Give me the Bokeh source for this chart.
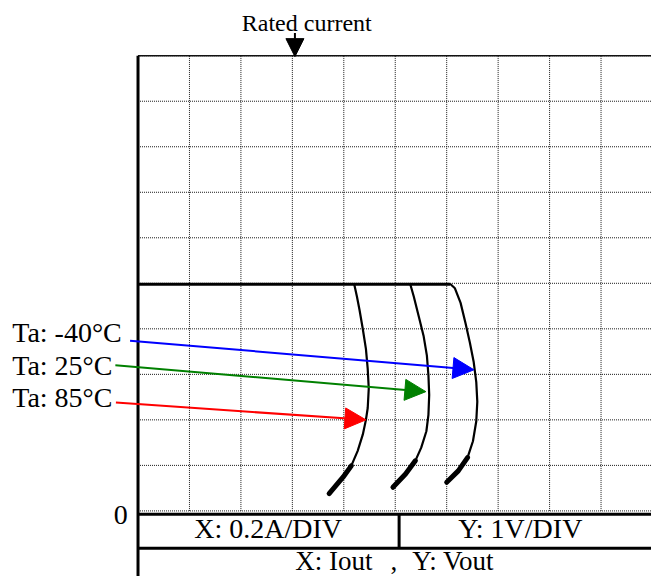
from bokeh.plotting import figure
from bokeh.models import Range1d, Arrow, NormalHead
from bokeh.embed import file_html
from bokeh.resources import INLINE
from bokeh.core.properties import value

# ---- data ----
x_div = [0.0, 0.2, 0.4, 0.6, 0.8, 1.0, 1.2, 1.4, 1.6, 1.8, 2.0]   # Iout (A), 0.2 A/DIV
y_div = [0, 1, 2, 3, 4, 5, 6, 7, 8, 9, 10]                        # Vout (V), 1 V/DIV

v_set = 4.98   # regulated output voltage

i_85 = [0.841, 0.851, 0.861, 0.874, 0.886, 0.893, 0.897, 0.893, 0.886, 0.874, 0.854, 0.829, 0.797, 0.743]
v_85 = [4.97, 4.71, 4.42, 3.99, 3.56, 3.12, 2.69, 2.26, 2.00, 1.68, 1.32, 0.99, 0.74, 0.38]

i_25 = [1.059, 1.072, 1.091, 1.110, 1.123, 1.129, 1.132, 1.129, 1.121, 1.101, 1.078, 1.040, 0.991]
v_25 = [4.97, 4.71, 4.28, 3.85, 3.41, 2.98, 2.55, 2.11, 1.75, 1.39, 1.10, 0.81, 0.52]

i_m40 = [1.213, 1.232, 1.254, 1.273, 1.290, 1.305, 1.315, 1.319, 1.315, 1.302, 1.281, 1.245, 1.200]
v_m40 = [4.99, 4.89, 4.57, 4.13, 3.70, 3.27, 2.83, 2.40, 1.97, 1.53, 1.17, 0.88, 0.63]

labels = ["Ta: -40°C", "Ta: 25°C", "Ta: 85°C"]
label_colors = ["#0000ff", "#008000", "#ff0000"]
label_y = [3.928, 3.185, 2.498]
arrow_start_x = [-0.031, -0.088, -0.086]
arrow_start_y = [3.74, 3.20, 2.38]
arrow_tip_x = [1.306, 1.119, 0.886]
arrow_tip_y = [3.10, 2.62, 2.00]

rated_current = 0.61
rated_text = "Rated current"
scale_texts = ["X: 0.2A/DIV", "Y: 1V/DIV"]
axis_texts = ["X: Iout", ",", "Y: Vout"]
axis_text_x = [0.611, 0.982, 1.066]

FONT = value("Liberation Serif")

p = figure(width=651, height=576,
           x_range=Range1d(-0.5346, 1.9962), y_range=Range1d(-1.441, 11.213),
           output_backend="svg", toolbar_location=None,
           x_axis_location=None, y_axis_location=None, min_border=0)
p.grid.visible = False
p.outline_line_color = None
p.background_fill_color = "white"
p.border_fill_color = "white"

x0, x1 = x_div[0], x_div[-1]
y0, y1 = y_div[0], y_div[-1]

# dotted grid
p.segment(x0=x_div[1:], y0=[y0] * (len(x_div) - 1), x1=x_div[1:], y1=[y1] * (len(x_div) - 1),
          line_color="#1a1a1a", line_width=1, line_dash="1 1")
p.segment(x0=[x0] * len(y_div), y0=y_div, x1=[x1] * len(y_div), y1=y_div,
          line_color="#1a1a1a", line_width=1, line_dash="1 1")
# top border
p.line([x0, x1], [y1, y1], line_color="#111111", line_width=1.5)

# table below the grid
t_top = -0.076
t_mid = -0.823
y_bot = -1.441
p.line([x0, x1], [t_top, t_top], line_color="black", line_width=3)
p.line([x0, x1], [t_mid, t_mid], line_color="black", line_width=3)
p.line([1.015, 1.015], [t_top, t_mid], line_color="black", line_width=3)
# left border (grid + table)
p.line([x0, x0], [y1, y_bot], line_color="black", line_width=3)

# curves
p.line([x0, i_m40[0]], [v_set, v_set], line_color="black", line_width=3)
for ii, vv in [(i_85, v_85), (i_25, v_25), (i_m40, v_m40)]:
    p.line(ii, vv, line_color="black", line_width=2.2)
    p.line(ii[-3:], vv[-3:], line_color="black", line_width=5, line_cap="round")

# colored arrows + labels
for k in range(3):
    p.add_layout(Arrow(x_start=arrow_start_x[k], y_start=arrow_start_y[k],
                       x_end=arrow_tip_x[k], y_end=arrow_tip_y[k],
                       line_color=label_colors[k], line_width=2,
                       end=NormalHead(size=21, fill_color=label_colors[k],
                                      line_color=label_colors[k], line_width=1)))
p.text(x=[-0.489] * 3, y=label_y, text=labels, text_font=FONT, text_font_size="28px",
       text_color="black", text_align="left", text_baseline="middle")

# rated current marker
p.add_layout(Arrow(x_start=rated_current, y_start=10.50, x_end=rated_current, y_end=9.98,
                   line_color="black", line_width=2,
                   end=NormalHead(size=18, fill_color="black", line_color="black", line_width=1)))
p.text(x=[0.656], y=[10.715], text=[rated_text], text_font=FONT, text_font_size="24px",
       text_color="black", text_align="center", text_baseline="middle")

# zero label
p.text(x=[-0.040], y=[-0.098], text=["0"], text_font=FONT, text_font_size="28px",
       text_color="black", text_align="right", text_baseline="middle")

# table texts
p.text(x=[0.506, 1.486], y=[-0.390, -0.390], text=scale_texts, text_font=FONT,
       text_font_size="28px", text_color="black", text_align="center", text_baseline="middle")
p.text(x=axis_text_x, y=[-1.09] * 3, text=axis_texts, text_font=FONT,
       text_font_size="27px", text_color="black", text_align="left", text_baseline="middle")

open("out.html", "w").write(file_html(p, INLINE))
